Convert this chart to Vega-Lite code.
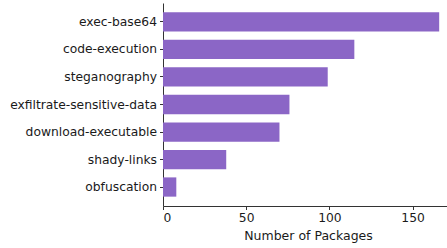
{
  "$schema": "https://vega.github.io/schema/vega-lite/v6.json",
  "autosize": {"type": "none"},
  "padding": {"left": 163, "top": 3, "right": 0, "bottom": 42},
  "width": 290,
  "height": 203,
  "background": "white",
  "config": {
    "view": {"stroke": null},
    "font": "DejaVu Sans",
    "axis": {
      "labelFont": "DejaVu Sans",
      "titleFont": "DejaVu Sans",
      "labelFontSize": 12.3,
      "titleFontSize": 12.5,
      "titleFontWeight": "normal",
      "labelColor": "#1a1a1a",
      "titleColor": "#1a1a1a",
      "domainColor": "#333333",
      "tickColor": "#333333",
      "grid": false
    }
  },
  "data": {
    "values": [
      {"category": "exec-base64", "count": 166},
      {"category": "code-execution", "count": 115},
      {"category": "steganography", "count": 99},
      {"category": "exfiltrate-sensitive-data", "count": 76},
      {"category": "download-executable", "count": 70},
      {"category": "shady-links", "count": 38},
      {"category": "obfuscation", "count": 8}
    ]
  },
  "mark": {"type": "bar", "color": "#8b66c6", "clip": true},
  "encoding": {
    "y": {
      "field": "category",
      "type": "nominal",
      "sort": null,
      "scale": {"paddingInner": 0.3, "paddingOuter": 0.34},
      "axis": {"title": null, "tickSize": 3.5, "labelPadding": 3, "domainWidth": 1}
    },
    "x": {
      "field": "count",
      "type": "quantitative",
      "scale": {"domain": [0, 174.3], "nice": false},
      "axis": {"title": "Number of Packages", "values": [0, 50, 100, 150], "tickSize": 3.5, "labelPadding": 2, "titlePadding": 6, "labelAngle": 0}
    }
  }
}
